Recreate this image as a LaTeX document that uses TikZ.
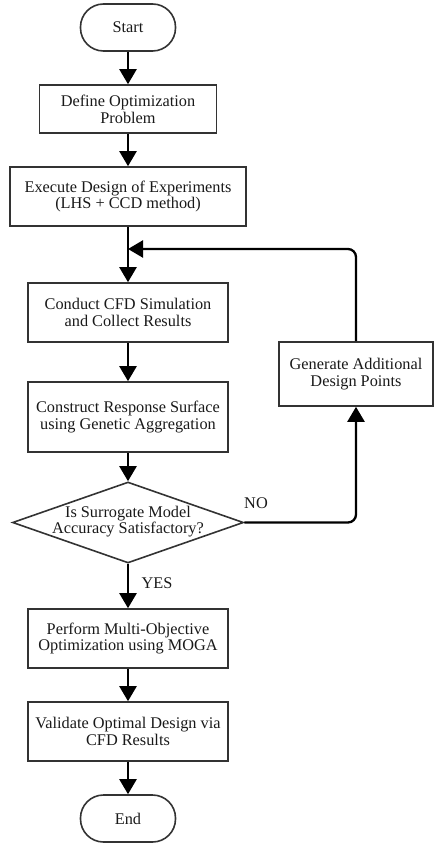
\documentclass[tikz,border=0pt]{standalone}
\usepackage{fontspec}
\setmainfont{Liberation Serif}
\usetikzlibrary{arrows.meta,shapes.geometric}
\begin{document}
\begin{tikzpicture}[x=1pt,y=-1pt,
  every node/.style={font=\fontsize{16.3}{16.8}\selectfont, text=black!90, align=center, inner sep=0pt},
  proc/.style={draw=black!80, line width=1.6pt, rectangle},
  term/.style={draw=black!80, line width=1.6pt, rectangle, rounded corners=23pt, minimum width=95pt, minimum height=47pt},
  flow/.style={draw=black, line width=2.3pt, -{Triangle[width=17pt,length=15pt]}},
  lbl/.style={font=\fontsize{16.3}{16.8}\selectfont}
]
\useasboundingbox (0,0) rectangle (440,850);
\node[term] (start) at (128,27.5) {Start};
\node[proc, minimum width=177pt, minimum height=48pt] (define) at (128,109) {Define Optimization\\Problem};
\node[proc, minimum width=236pt, minimum height=59pt] (exec) at (128,196.5) {Execute Design of Experiments\\(LHS + CCD method)};
\node[proc, minimum width=200pt, minimum height=59pt] (conduct) at (128,312.5) {Conduct CFD Simulation\\and Collect Results};
\node[proc, minimum width=200pt, minimum height=70pt] (construct) at (128,417) {Construct Response Surface\\using Genetic Aggregation};
\node[diamond, draw=black!80, line width=1.6pt, minimum width=231pt, minimum height=81pt, inner sep=0pt] (dec) at (128,522.5) {};
\node (dectext) at (128,521.5) {Is Surrogate Model\\Accuracy Satisfactory?};
\node[proc, minimum width=154pt, minimum height=64pt] (gen) at (356,374) {Generate Additional\\Design Points};
\node[proc, minimum width=200pt, minimum height=59pt] (perform) at (128,638.5) {Perform Multi-Objective\\Optimization using MOGA};
\node[proc, minimum width=200pt, minimum height=59pt] (valid) at (128,731.5) {Validate Optimal Design via\\CFD Results};
\node[term] (end) at (128,818.5) {End};
\coordinate (merge) at (128,249);
\node[lbl] (no) at (256,503) {NO};
\node[lbl] (yes) at (157,583) {YES};

\draw[flow] (start) -- (define);
\draw[flow] (define) -- (exec);
\draw[flow] (exec) -- (conduct);
\draw[flow] (conduct) -- (construct);
\draw[flow] (construct) -- (dec.north);
\draw[flow] (dec.south) -- (perform);
\draw[flow] (perform) -- (valid);
\draw[flow] (valid) -- (end);
\draw[flow, rounded corners=8pt] (dec.east) -| (gen.south);
\draw[flow, rounded corners=8pt] (gen.north) |- (merge);
\end{tikzpicture}
\end{document}
